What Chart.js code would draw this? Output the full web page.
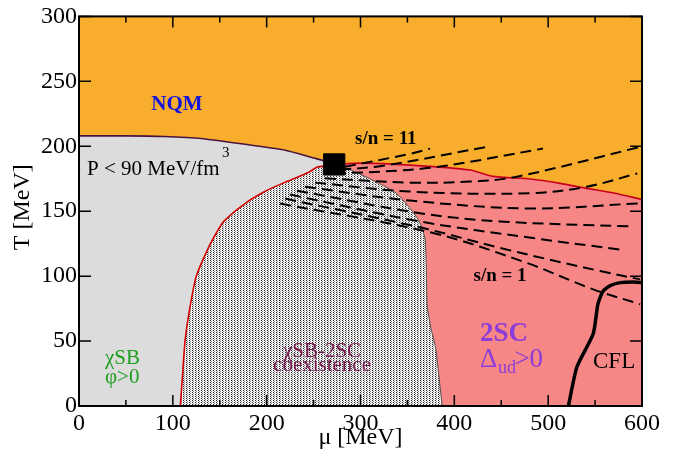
<!DOCTYPE html>
<html>
<head>
<meta charset="utf-8">
<script src="https://cdn.jsdelivr.net/npm/chart.js@4.4.0/dist/chart.umd.min.js"></script>
<style>
html, body { margin: 0; padding: 0; background: #fff; }
#wrap { width: 676px; height: 453px; }
</style>
</head>
<body>
<div id="wrap"><canvas id="phaseChart"></canvas></div>
<script>
// axis ticks
var muTicks = [0, 100, 200, 300, 400, 500, 600];
var tTicks = [0, 50, 100, 150, 200, 250, 300];

// NQM fills the whole window
var nqmMu = [0, 600, 600, 0];
var nqmT = [0, 0, 300, 300];

// chiral crossover line (chiSB / NQM)
var crossMu = [0, 50, 90, 130, 182, 220, 250, 265, 272];
var crossT = [208, 208, 207.5, 206, 201, 197, 191, 188, 186];

// left edge of the coexistence region
var coexLeftMu = [108, 110, 113, 118, 125, 138, 147, 154, 179, 200, 222, 245, 254, 265, 272];
var coexLeftT = [0, 20, 50, 75, 100, 122, 134, 142, 157, 166, 173, 180, 184, 185, 186];

// right edge of the coexistence region (towards 2SC)
var coexRightMu = [272, 285, 310, 338, 353, 362, 366, 369, 370, 371, 375, 380, 384, 387];
var coexRightT = [186, 183, 175, 164, 152, 143, 136, 128, 110, 78, 60, 45, 20, 0];

// upper edge of the 2SC phase
var scTopMu = [272, 300, 353, 417, 441, 481, 513, 541, 570, 600];
var scTopT = [186, 187, 185.5, 181.7, 176.8, 174.8, 171.4, 167.6, 164, 159];

// 2SC / CFL border
var cflMu = [521.6, 530.6, 548, 553, 558.6, 567, 576.7, 590, 600];
var cflT = [0, 30, 55.6, 78.5, 88.5, 93, 95, 95.5, 95];

// critical end point
var cepMu = [272];
var cepT = [186];

// isentropes s/n = 11 ... 1
var isenMu = [
  [283.5, 352.8, 374.1],
  [278.2, 324, 434.5],
  [272.8, 374.1, 494.5],
  [262, 352.8, 416.7, 466.8, 598.1],
  [251.5, 352.8, 480.6, 541.4, 594.9],
  [240.9, 352.8, 480.6, 598.1],
  [232.3, 363.4, 448.7, 587.4],
  [224.9, 363.4, 483.8, 576.7],
  [219.5, 366.6, 448.7, 555.4, 598.1],
  [214.2, 377.3, 477.1, 548, 598.1]
];
var isenT = [
  [184.2, 194.2, 198.2],
  [181.9, 185, 199.5],
  [178.8, 183.4, 198.2],
  [175.3, 172, 172.8, 176.6, 199.5],
  [172, 165.1, 163.8, 168.9, 179.1],
  [168.9, 158.2, 152.1, 156.1],
  [165.8, 148.5, 142.1, 138.3],
  [162.8, 142.1, 129.3, 120.5],
  [159.7, 137, 121.7, 103.9, 97.5],
  [155.9, 133.2, 110.2, 89.8, 78.4]
];

function pts(mu, t) {
  return mu.map(function (m, i) { return { x: m, y: t[i] }; });
}
function rev(a) { return a.slice().reverse(); }

function makePattern(w, h, base, dots) {
  var c = document.createElement('canvas');
  c.width = w; c.height = h;
  var g = c.getContext('2d');
  g.fillStyle = base;
  g.fillRect(0, 0, w, h);
  dots.forEach(function (d) {
    g.fillStyle = d[2];
    g.fillRect(d[0], d[1], 1, 1);
  });
  return g.createPattern(c, 'repeat');
}

var ctx0 = document.getElementById('phaseChart').getContext('2d');
var coexFill = makePattern(3, 2, '#f4f4f4', [[0, 0, '#262626'], [1, 1, '#8a8a8a']]);

var chiMu = [0].concat(coexLeftMu, rev(crossMu));
var chiT = [0].concat(coexLeftT, rev(crossT));
var coexMu = coexLeftMu.concat(coexRightMu);
var coexT = coexLeftT.concat(coexRightT);
var twoscMu = [387, 600].concat(rev(scTopMu), coexRightMu);
var twoscT = [0, 0].concat(rev(scTopT), coexRightT);

function area(mu, t, fillStyle, order) {
  return {
    data: pts(mu, t), showLine: true, fill: 'shape', backgroundColor: fillStyle,
    borderWidth: 0, borderColor: 'rgba(0,0,0,0)', pointRadius: 0, tension: 0, order: order
  };
}
function curve(mu, t, color, width, order) {
  return {
    data: pts(mu, t), showLine: true, fill: false, borderColor: color,
    borderWidth: width, pointRadius: 0, tension: 0.2, order: order
  };
}

var datasets = [
  area(nqmMu, nqmT, '#f8ae2c', 20),
  area(chiMu, chiT, '#dcdcdc', 19),
  area(coexMu, coexT, coexFill, 18),
  area(twoscMu, twoscT, '#f78686', 17),
  curve(crossMu, crossT, '#4a1440', 1.6, 10),
  curve(coexLeftMu, coexLeftT, '#d40000', 1.6, 10),
  curve(coexRightMu, coexRightT, '#505050', 1, 10),
  curve(scTopMu, scTopT, '#c8001e', 1.6, 10),
  curve(cflMu, cflT, '#000', 3.5, 5)
];
isenMu.forEach(function (m, i) {
  var d = curve(m, isenT[i], '#000', 2, 6);
  d.borderDash = [11, 6];
  d.tension = 0.35;
  datasets.push(d);
});
datasets.push({
  data: pts(cepMu, cepT), showLine: false, pointStyle: 'rect', pointRadius: 15,
  backgroundColor: '#000', borderColor: '#000', order: 1
});

var serif = '"Liberation Serif", "Times New Roman", serif';
var notes = [
  { text: 'NQM', mu: 104.4, t: 228, font: 'bold 21px ' + serif, color: '#1414dc', align: 'center' },
  { text: 'P < 90 MeV/fm', mu: 8.5, t: 178, font: '21px ' + serif, color: '#000', align: 'left' },
  { text: '3', mu: 152.5, t: 191.5, font: '15px ' + serif, color: '#000', align: 'left' },
  { text: 's/n = 11', mu: 327, t: 202, font: 'bold 19px ' + serif, color: '#000', align: 'center' },
  { text: 's/n = 1', mu: 448.7, t: 96, font: 'bold 19px ' + serif, color: '#000', align: 'center' },
  { text: '\u03c7SB', mu: 27.7, t: 32.7, font: '21px ' + serif, color: '#1e9e1e', align: 'left' },
  { text: '\u03c6>0', mu: 27.7, t: 17.4, font: '21px ' + serif, color: '#1e9e1e', align: 'left' },
  { text: '\u03c7SB-2SC', mu: 259, t: 38, font: '21px ' + serif, color: '#7a1850', align: 'center' },
  { text: 'coexistence', mu: 259, t: 27.3, font: '21px ' + serif, color: '#7a1850', align: 'center' },
  { text: '2SC', mu: 427.4, t: 50.3, font: 'bold 27px ' + serif, color: '#8c3cd8', align: 'left' },
  { text: '\u0394', mu: 427.4, t: 30.4, font: '27px ' + serif, color: '#8c3cd8', align: 'left' },
  { text: 'ud', mu: 446.5, t: 25.2, font: '18px ' + serif, color: '#8c3cd8', align: 'left' },
  { text: '>0', mu: 464, t: 30.4, font: '27px ' + serif, color: '#8c3cd8', align: 'left' },
  { text: 'CFL', mu: 547.8, t: 28.9, font: '23px ' + serif, color: '#000', align: 'left' }
];

var decorations = {
  id: 'decorations',
  afterDatasetsDraw: function (chart) {
    var c = chart.ctx, a = chart.chartArea, xs = chart.scales.x, ys = chart.scales.y;
    c.save();
    c.textBaseline = 'alphabetic';
    notes.forEach(function (n) {
      c.font = n.font;
      c.fillStyle = n.color;
      c.textAlign = n.align;
      c.fillText(n.text, xs.getPixelForValue(n.mu), ys.getPixelForValue(n.t));
    });
    c.strokeStyle = '#000';
    c.lineWidth = 2;
    c.strokeRect(a.left, a.top, a.right - a.left, a.bottom - a.top);
    c.lineWidth = 1.5;
    c.beginPath();
    for (var m = 0; m <= 600; m += 50) {
      var px = xs.getPixelForValue(m);
      var len = m % 100 === 0 ? 11 : 6;
      c.moveTo(px, a.bottom); c.lineTo(px, a.bottom - len);
      c.moveTo(px, a.top); c.lineTo(px, a.top + len);
    }
    tTicks.forEach(function (t) {
      var py = ys.getPixelForValue(t);
      c.moveTo(a.left, py); c.lineTo(a.left + 12, py);
      c.moveTo(a.right, py); c.lineTo(a.right - 12, py);
    });
    c.stroke();
    c.fillStyle = '#000';
    c.font = '24px ' + serif;
    c.textAlign = 'center';
    c.fillText('\u03bc [MeV]', (a.left + a.right) / 2, 444);
    c.translate(29, (a.top + a.bottom) / 2 - 4);
    c.rotate(-Math.PI / 2);
    c.fillText('T [MeV]', 0, 0);
    c.restore();
  }
};

new Chart(ctx0, {
  type: 'scatter',
  data: { datasets: datasets },
  options: {
    responsive: true,
    maintainAspectRatio: false,
    animation: false,
    layout: { padding: { top: 13, right: 34, left: 0, bottom: 0 } },
    plugins: { legend: { display: false }, tooltip: { enabled: false } },
    scales: {
      x: {
        type: 'linear', min: 0, max: 600,
        afterBuildTicks: function (s) { s.ticks = muTicks.map(function (v) { return { value: v }; }); },
        afterFit: function (s) { s.height = 47; },
        grid: { display: false, drawTicks: false },
        border: { display: false },
        ticks: { font: { family: serif, size: 24 }, color: '#000', padding: 3, maxRotation: 0 }
      },
      y: {
        type: 'linear', min: 0, max: 300,
        afterBuildTicks: function (s) { s.ticks = tTicks.map(function (v) { return { value: v }; }); },
        afterFit: function (s) { s.width = 79; },
        grid: { display: false, drawTicks: false },
        border: { display: false },
        ticks: { font: { family: serif, size: 24 }, color: '#000', padding: 2 }
      }
    }
  },
  plugins: [decorations]
});
</script>
</body>
</html>
